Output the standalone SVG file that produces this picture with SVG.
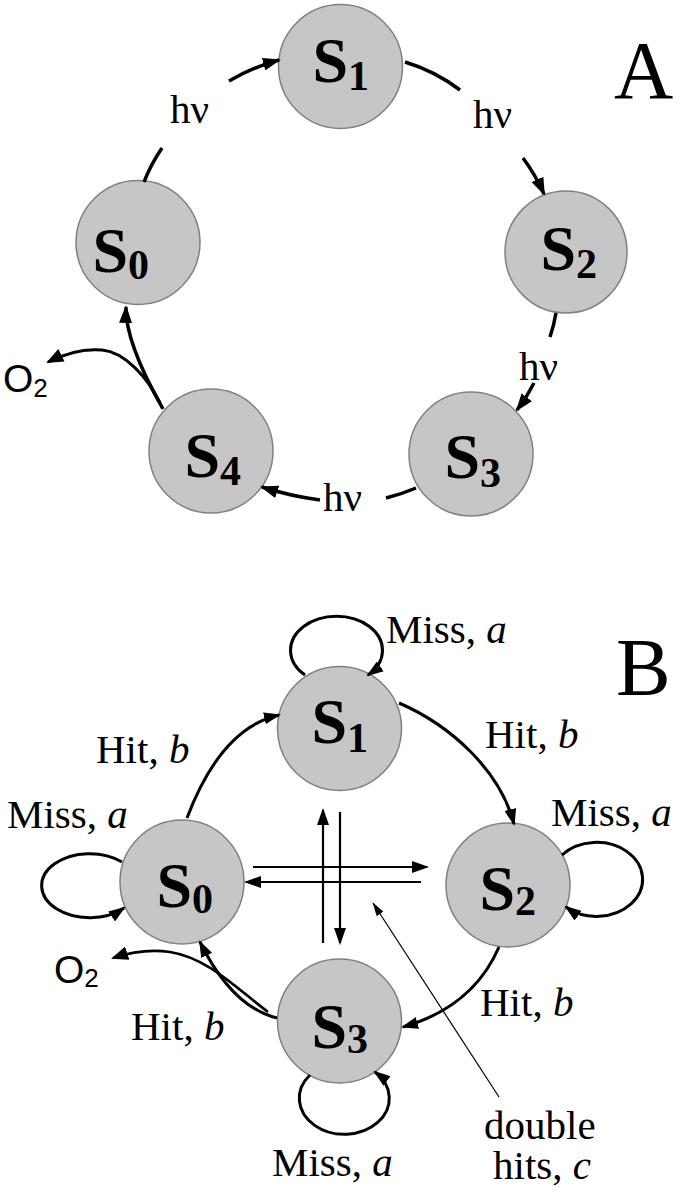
<svg xmlns="http://www.w3.org/2000/svg" width="680" height="1199" viewBox="0 0 680 1199">
<style>
.node{fill:#c6c6c6;stroke:#808080;stroke-width:1.5}
.s{font-family:"Liberation Serif","Times New Roman",serif;font-weight:bold;font-size:64px;fill:#000}
.sub{font-size:42px}
.lbl{font-family:"Liberation Serif","Times New Roman",serif;font-size:41px;fill:#000}
.big{font-family:"Liberation Serif","Times New Roman",serif;font-size:82px;fill:#000}
.o2{font-family:"Liberation Sans",Arial,sans-serif;font-size:39px;fill:#000}
.o2s{font-size:26px}
.e{fill:none;stroke:#000;stroke-width:3.5}
.eb{fill:none;stroke:#000;stroke-width:3}
.dh{fill:none;stroke:#000;stroke-width:2.2}
.ptr{fill:none;stroke:#000;stroke-width:1.2}
</style>
<defs>
<marker id="ahA" viewBox="0 0 18 13" refX="16" refY="6.5" markerWidth="18" markerHeight="13" markerUnits="userSpaceOnUse" orient="auto"><path d="M0,0 L18,6.5 L0,13 z" fill="#000"/></marker>
<marker id="ahB" viewBox="0 0 17 12" refX="15" refY="6" markerWidth="17" markerHeight="12" markerUnits="userSpaceOnUse" orient="auto"><path d="M0,0 L17,6 L0,12 z" fill="#000"/></marker>
<marker id="ahO" viewBox="0 0 17 14" refX="15" refY="7" markerWidth="17" markerHeight="14" markerUnits="userSpaceOnUse" orient="auto"><path d="M0,0 L17,7 L0,14 z" fill="#000"/></marker>
<marker id="ahP" viewBox="0 0 14 8" refX="13" refY="4" markerWidth="14" markerHeight="8" markerUnits="userSpaceOnUse" orient="auto"><path d="M0,0 L14,4 L0,8 z" fill="#000"/></marker>
</defs>

<!-- Panel A nodes -->
<g id="A-S1"><circle class="node" cx="340.5" cy="66.5" r="62"/><text class="s" x="312.5" y="82">S<tspan class="sub" dy="8">1</tspan></text></g>
<g id="A-S0"><circle class="node" cx="138" cy="242.5" r="62"/><text class="s" x="92.5" y="272">S<tspan class="sub" dy="7">0</tspan></text></g>
<g id="A-S2"><circle class="node" cx="566" cy="252" r="61"/><text class="s" x="540.5" y="270">S<tspan class="sub" dy="8">2</tspan></text></g>
<g id="A-S3"><circle class="node" cx="471" cy="454" r="62"/><text class="s" x="444.5" y="478">S<tspan class="sub" dy="9">3</tspan></text></g>
<g id="A-S4"><circle class="node" cx="211" cy="451" r="62"/><text class="s" x="184.5" y="477">S<tspan class="sub" dy="8">4</tspan></text></g>

<!-- Panel B nodes -->
<g id="B-S1"><circle class="node" cx="339.5" cy="728.5" r="62"/><text class="s" x="311.5" y="743">S<tspan class="sub" dy="9">1</tspan></text></g>
<g id="B-S0"><circle class="node" cx="182" cy="882" r="62"/><text class="s" x="156.5" y="907">S<tspan class="sub" dy="6">0</tspan></text></g>
<g id="B-S2"><circle class="node" cx="508" cy="885" r="62"/><text class="s" x="479.5" y="910">S<tspan class="sub" dy="5">2</tspan></text></g>
<g id="B-S3"><circle class="node" cx="339.5" cy="1021" r="62"/><text class="s" x="311.5" y="1048">S<tspan class="sub" dy="5">3</tspan></text></g>

<g id="connectors">
<!-- Panel A -->
<path class="e" d="M144,182 Q151,164 162,148"/>
<path class="e" d="M229,81 Q253,67 279,60" marker-end="url(#ahA)"/>
<path class="e" d="M405,62 Q435,71 460,90"/>
<path class="e" d="M523,158 Q535,174 544,194" marker-end="url(#ahA)"/>
<path class="e" d="M556,313 Q554,325 550,337"/>
<path class="e" d="M534,383 Q527,397 517,410" marker-end="url(#ahA)"/>
<path class="e" d="M416,488 Q402,494 386,498"/>
<path class="e" d="M320,500 Q290,496 262,487" marker-end="url(#ahA)"/>
<path class="e" d="M163,409 Q125,342 126,307" marker-end="url(#ahA)"/>
<path class="e" style="stroke-width:3" d="M160,403 C148,378 125,352 102,350 C82,348 64,354 48,362" marker-end="url(#ahO)"/>
<!-- Panel B -->
<path class="eb" d="M187,818 Q221,728 279,715" marker-end="url(#ahB)"/>
<path class="eb" d="M399,703 C450,725 500,770 514,824" marker-end="url(#ahB)"/>
<path class="eb" d="M499,947 Q473,1007 403,1027" marker-end="url(#ahB)"/>
<path class="eb" d="M277,1018 Q232,1007 200,942" marker-end="url(#ahB)"/>
<path class="eb" style="stroke-width:2.6" d="M268,1012 C236,988 208,958 170,952 C150,949 131,952 113,958" marker-end="url(#ahO)"/>
<path class="eb" d="M305,675 A46,34 0 1 1 368,675" marker-end="url(#ahB)"/>
<path class="eb" d="M122,862 A48,32 0 1 0 124,908" marker-end="url(#ahB)"/>
<path class="eb" d="M562,855 A46,37 0 1 1 566,907" marker-end="url(#ahB)"/>
<path class="eb" d="M310,1075 A45,36 0 1 0 375,1072" marker-end="url(#ahB)"/>
<path class="dh" d="M253,867 L427,867" marker-end="url(#ahB)"/>
<path class="dh" d="M421,882 L246,882" marker-end="url(#ahB)"/>
<path class="dh" d="M323,943 L323,810" marker-end="url(#ahB)"/>
<path class="dh" d="M340,812 L340,943" marker-end="url(#ahB)"/>
<path class="ptr" d="M499,1097 L373,903" marker-end="url(#ahP)"/>
</g>

<g id="labels">
<text class="big" x="614" y="98">A</text>
<text class="big" x="616" y="695">B</text>
<text class="lbl" x="170" y="123">hν</text>
<text class="lbl" x="473" y="128">hν</text>
<text class="lbl" x="519" y="380">hν</text>
<text class="lbl" x="323" y="511">hν</text>
<text class="o2" x="3" y="392">O<tspan class="o2s" dy="5">2</tspan></text>
<text class="o2" x="54" y="983">O<tspan class="o2s" dy="4">2</tspan></text>
<text class="lbl" x="386" y="643">Miss, <tspan font-style="italic">a</tspan></text>
<text class="lbl" x="96" y="763">Hit, <tspan font-style="italic">b</tspan></text>
<text class="lbl" x="485" y="748">Hit, <tspan font-style="italic">b</tspan></text>
<text class="lbl" x="7" y="828">Miss, <tspan font-style="italic">a</tspan></text>
<text class="lbl" x="551" y="826">Miss, <tspan font-style="italic">a</tspan></text>
<text class="lbl" x="480" y="1016">Hit, <tspan font-style="italic">b</tspan></text>
<text class="lbl" x="131" y="1040">Hit, <tspan font-style="italic">b</tspan></text>
<text class="lbl" x="272" y="1176">Miss, <tspan font-style="italic">a</tspan></text>
<text class="lbl" x="484" y="1139">double</text>
<text class="lbl" x="493" y="1179">hits, <tspan font-style="italic">c</tspan></text>
</g>
</svg>
